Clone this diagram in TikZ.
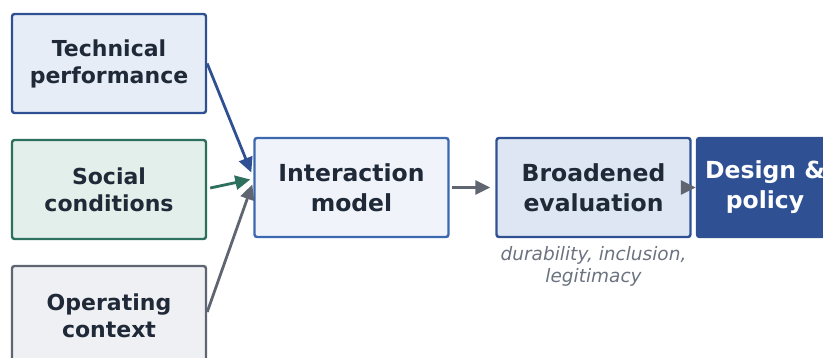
\documentclass[tikz,border=0pt]{standalone}
\usepackage{fontspec}
\setmainfont{DejaVu Sans}
\usetikzlibrary{arrows.meta}
\definecolor{txt}{HTML}{1F2937}
\definecolor{bluedk}{HTML}{2F5194}
\definecolor{bluemd}{HTML}{3B68AE}
\definecolor{greendk}{HTML}{2E705E}
\definecolor{graydk}{HTML}{5F6571}
\definecolor{fillA}{HTML}{E6EDF6}
\definecolor{fillB}{HTML}{E3EFEA}
\definecolor{fillC}{HTML}{EEF0F4}
\definecolor{fillD}{HTML}{F0F4FA}
\definecolor{fillE}{HTML}{DDE6F2}
\definecolor{note}{HTML}{6B7280}
\tikzset{
  box/.style={rectangle, rounded corners=2.5pt, line width=2.4pt, minimum width=194pt, minimum height=99pt, align=center, text=txt, font=\fontsize{22}{27}\selectfont\bfseries, inner sep=0pt},
  bigbox/.style={box, font=\fontsize{23.5}{30}\selectfont\bfseries},
  conn/.style={line width=2.8pt, -{Triangle[length=15pt,width=14pt]}},
}
\begin{document}
\begin{tikzpicture}[x=1pt,y=1pt]
\useasboundingbox (0,0) rectangle (823,-358);
\clip (0,0) rectangle (823,-358);
\node[box, draw=bluedk, fill=fillA] (tech) at (109,-63.5) {Technical\\performance};
\node[box, draw=greendk, fill=fillB] (soc) at (109,-189.5) {Social\\conditions};
\node[box, draw=graydk, fill=fillC] (op) at (109,-315.5) {Operating\\context};
\node[bigbox, draw=bluemd, fill=fillD] (inter) at (351.5,-187.5) {Interaction\\model};
\node[bigbox, draw=bluedk, fill=fillE] (broad) at (593.5,-187.5) {Broadened\\evaluation};
\node[bigbox, draw=bluedk, fill=bluedk, text=white, minimum width=136pt] (des) at (765,-187.5) {Design \&\\policy};
\node[font=\fontsize{18.5}{21.5}\selectfont\itshape, text=note, align=center, anchor=north] (lab) at ([yshift=-5pt]broad.south) {durability, inclusion,\\legitimacy};
\draw[conn, draw=bluedk, fill=bluedk] (tech.east) -- ([xshift=-2pt,yshift=15pt]inter.west);
\draw[conn, draw=greendk, fill=greendk] ([xshift=3pt,yshift=1.5pt]soc.east) -- ([xshift=-3pt,yshift=8pt]inter.west);
\draw[conn, draw=graydk, fill=graydk] ([yshift=3.5pt]op.east) -- ([xshift=-1pt,yshift=3pt]inter.west);
\draw[conn, draw=graydk, fill=graydk] ([xshift=2pt]inter.east) -- ([xshift=-5pt]broad.west);
\draw[conn, draw=graydk, fill=graydk] (broad.east) -- (des.west);
\end{tikzpicture}
\end{document}
